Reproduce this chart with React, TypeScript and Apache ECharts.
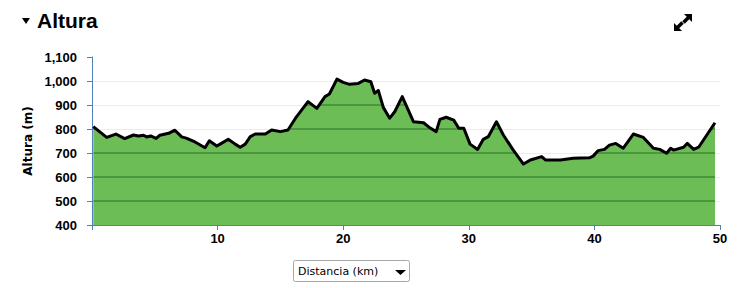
import React, { useEffect, useRef } from "react";
import * as echarts from "echarts";

const distanceKm = [
  0.1, 1.17, 1.9, 2.6, 3.3, 3.7, 4.1, 4.35, 4.67, 5.1, 5.4, 6.1, 6.6, 7.14, 7.5, 8.2, 9.0, 9.34, 9.93,
  10.3, 10.85, 11.4, 11.8, 12.2, 12.6, 13.0, 13.8, 14.3, 15.0, 15.6, 16.2, 17.2, 17.9, 18.55, 18.9,
  19.5, 20.0, 20.5, 21.2, 21.7, 22.2, 22.5, 22.8, 23.2, 23.7, 24.1, 24.7, 25.6, 26.4, 26.9, 27.4,
  27.7, 28.2, 28.8, 29.2, 29.6, 30.1, 30.7, 31.15, 31.55, 32.2, 32.75, 33.5, 34.35, 34.9, 35.8,
  36.1, 37.3, 38.3, 39.6, 39.9, 40.3, 40.8, 41.2, 41.7, 42.3, 43.1, 43.9, 44.7, 45.2, 45.75, 46.07,
  46.3, 47.1, 47.4, 47.9, 48.3, 49.6,
];
const altitudeM = [
  810, 765, 779, 760, 775, 771, 774, 767, 771, 761, 774, 782, 795, 767, 762, 746, 722, 751, 729,
  740, 757, 737, 724, 737, 768, 779, 779, 796, 789, 796, 845, 914, 886, 935, 946,
  1008, 994, 986, 990, 1004, 997, 949, 960, 889, 845, 872, 935, 830, 826, 805, 789,
  840, 849, 837, 803, 803, 737, 715, 757, 768, 830, 775, 715, 654, 671, 685,
  671, 671, 678, 680, 687, 710, 715, 733, 740, 720, 779, 765, 720, 715, 699, 720,
  712, 724, 740, 715, 724, 826,
];
const yTicks = [400, 500, 600, 700, 800, 900, 1000, 1100];
const xTicks = [0, 10, 20, 30, 40, 50];
const xLabels = [10, 20, 30, 40, 50];
const xAxisStart = -0.32;

const TITLE = "Altura";
const Y_NAME = "Altura (m)";
const X_SELECT = "Distancia (km)";

export default function App() {
  const ref = useRef<HTMLDivElement>(null);
  useEffect(() => {
    document.body.style.margin = "0";
    if (!ref.current) return;
    const chart = echarts.init(ref.current, null, { renderer: "svg" });

    const gridTop = 57;
    const gridBottomPx = 225;
    const yMin = yTicks[0];
    const yMax = yTicks[yTicks.length - 1];
    const fill = "#6cbd55";
    const dark = "#4e963d";
    const h = 0.9 / (gridBottomPx - gridTop);
    const stops: { offset: number; color: string }[] = [{ offset: 0, color: fill }];
    yTicks
      .filter((v) => v > yMin && v < yMax)
      .sort((a, b) => b - a)
      .forEach((v) => {
        const o = (yMax - v) / (yMax - yMin);
        stops.push({ offset: o - h, color: fill });
        stops.push({ offset: o - h, color: dark });
        stops.push({ offset: o + h, color: dark });
        stops.push({ offset: o + h, color: fill });
      });
    stops.push({ offset: 1, color: fill });

    const data = distanceKm.map((d, i) => [d, altitudeM[i]]);

    chart.setOption({
      animation: false,
      grid: { left: 88, right: 30, top: gridTop, bottom: 288 - gridBottomPx },
      xAxis: {
        type: "value",
        min: xAxisStart,
        max: xTicks[xTicks.length - 1],
        axisLine: { show: true, lineStyle: { color: "#4f81bd", width: 1 } },
        axisTick: { show: true, length: 5, customValues: xTicks, lineStyle: { color: "#4f81bd" } },
        axisLabel: {
          customValues: xLabels,
          color: "#000",
          fontFamily: "Liberation Sans",
          fontWeight: "bold",
          fontSize: 13,
          margin: 7,
        },
        splitLine: { show: false },
      },
      yAxis: {
        type: "value",
        min: yMin,
        max: yMax,
        interval: 100,
        name: Y_NAME,
        nameLocation: "middle",
        nameRotate: 90,
        nameGap: 54,
        nameTextStyle: { color: "#000", fontFamily: "DejaVu Sans", fontWeight: "bold", fontSize: 12 },
        axisLine: { show: true, lineStyle: { color: "#4f81bd", width: 1 } },
        axisTick: { show: true, inside: false, length: 5, lineStyle: { color: "#4f81bd" } },
        axisLabel: {
          color: "#000",
          fontFamily: "Liberation Sans",
          fontWeight: "bold",
          fontSize: 13,
          margin: 11,
          formatter: (v: number) => v.toLocaleString("en-US"),
        },
        splitLine: { show: true, showMaxLine: false, showMinLine: false, lineStyle: { color: "#ececec", width: 1 } },
      },
      series: [
        {
          type: "line",
          data,
          symbol: "none",
          smooth: false,
          lineStyle: { color: "#000", width: 3, join: "round" },
          areaStyle: {
            opacity: 1,
            color: new echarts.graphic.LinearGradient(0, gridTop, 0, gridBottomPx, stops, true),
          },
        },
      ],
      graphic: [
        {
          type: "polygon",
          shape: { points: [[22, 18], [30, 18], [26, 24]] },
          style: { fill: "#000" },
        },
        {
          type: "text",
          x: 37,
          y: 20,
          style: {
            text: TITLE,
            fill: "#000",
            font: "bold 21px 'Liberation Sans'",
            textVerticalAlign: "middle",
          },
        },
        {
          type: "polygon",
          shape: { points: [[684, 14], [692, 14], [692, 22]] },
          style: { fill: "#000" },
        },
        {
          type: "line",
          shape: { x1: 683.5, y1: 22.5, x2: 689, y2: 17 },
          style: { stroke: "#000", lineWidth: 3.5 },
        },
        {
          type: "polygon",
          shape: { points: [[674, 23], [674, 31], [682, 31]] },
          style: { fill: "#000" },
        },
        {
          type: "line",
          shape: { x1: 682.5, y1: 22.5, x2: 677, y2: 28 },
          style: { stroke: "#000", lineWidth: 3.5 },
        },
        {
          type: "rect",
          shape: { x: 293.5, y: 260.5, width: 116, height: 21, r: 2 },
          style: { fill: "#fff", stroke: "#a8a8a8", lineWidth: 1 },
        },
        {
          type: "text",
          x: 298,
          y: 271,
          style: {
            text: X_SELECT,
            fill: "#000",
            font: "11px 'DejaVu Sans'",
            textVerticalAlign: "middle",
          },
        },
        {
          type: "polygon",
          shape: { points: [[395, 270], [406, 270], [400.5, 275]] },
          style: { fill: "#000" },
        },
      ],
    });
    return () => chart.dispose();
  }, []);
  return <div ref={ref} style={{ width: 750, height: 288 }} />;
}
